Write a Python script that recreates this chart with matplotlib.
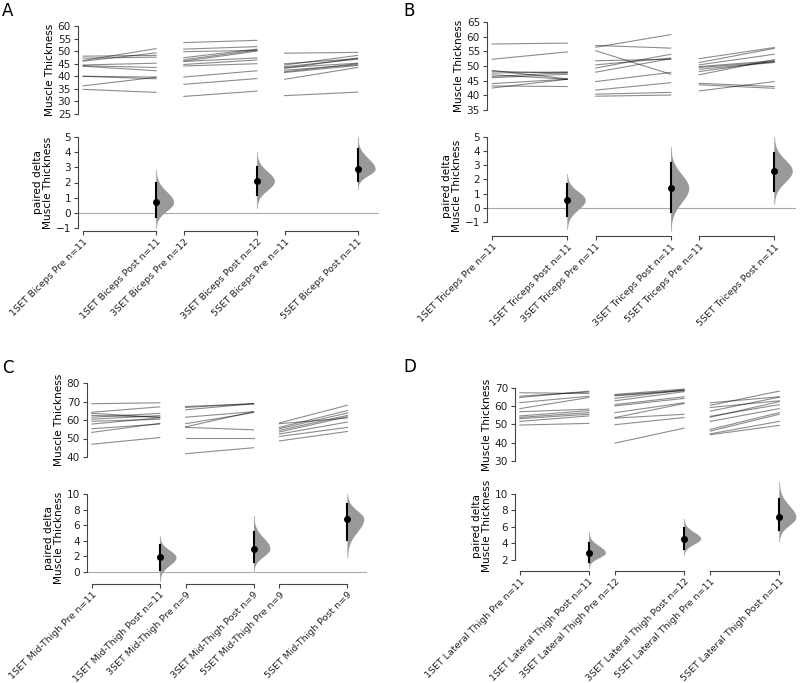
import matplotlib
matplotlib.use("Agg")
import matplotlib.pyplot as plt
import numpy as np

W, H = 800, 683

# ---- values ----
biceps_labels = ["1SET Biceps Pre n=11", "1SET Biceps Post n=11",
                 "3SET Biceps Pre n=12", "3SET Biceps Post n=12",
                 "5SET Biceps Pre n=11", "5SET Biceps Post n=11"]
biceps_pre = [[48.0, 47.2, 46.3, 46.0, 44.5, 44.2, 44.0, 40.0, 40.0, 36.2, 34.8],
              [53.4, 50.8, 49.8, 47.4, 46.6, 46.0, 45.9, 44.7, 44.1, 39.7, 36.8, 32.0],
              [49.2, 45.0, 44.5, 43.8, 43.5, 43.1, 42.4, 41.8, 41.5, 38.8, 32.3]]
biceps_post = [[48.3, 47.6, 51.0, 49.3, 45.2, 43.5, 42.2, 39.7, 39.0, 39.6, 33.6],
               [54.3, 51.8, 50.3, 50.8, 50.4, 50.0, 47.3, 46.5, 45.0, 42.2, 39.1, 34.1],
               [49.5, 47.0, 48.3, 46.8, 45.2, 47.3, 44.6, 45.0, 44.3, 43.5, 33.7]]
biceps_delta = [0.7, 2.1, 2.9]
biceps_ci = [(-0.3, 2.0), (1.2, 3.0), (2.1, 4.2)]
biceps_span = [(-1.0, 2.8), (0.3, 4.0), (1.6, 5.0)]

triceps_labels = ["1SET Triceps Pre n=11", "1SET Triceps Post n=11",
                  "3SET Triceps Pre n=11", "3SET Triceps Post n=11",
                  "5SET Triceps Pre n=11", "5SET Triceps Post n=11"]
triceps_pre = [[57.5, 52.3, 48.5, 48.2, 47.6, 47.0, 46.4, 46.0, 44.0, 43.2, 42.5],
               [57.0, 56.4, 55.2, 51.8, 50.4, 49.3, 47.9, 44.7, 41.8, 40.4, 39.7],
               [52.5, 51.2, 50.4, 49.8, 49.5, 48.9, 48.1, 47.0, 44.1, 43.6, 41.5]]
triceps_post = [[57.8, 54.8, 45.6, 47.6, 48.0, 45.5, 47.8, 47.2, 45.5, 43.0, 45.5],
                [56.1, 60.7, 47.2, 52.3, 52.7, 54.0, 52.5, 47.8, 44.3, 41.0, 40.1],
                [56.3, 56.0, 54.0, 51.8, 51.4, 51.2, 51.6, 52.2, 43.0, 42.4, 44.7]]
triceps_delta = [0.55, 1.4, 2.6]
triceps_ci = [(-0.6, 1.65), (-0.3, 3.15), (1.2, 3.85)]
triceps_span = [(-1.5, 2.35), (-1.65, 4.3), (0.25, 5.0)]

mid_labels = ["1SET Mid-Thigh Pre n=11", "1SET Mid-Thigh Post n=11",
              "3SET Mid-Thigh Pre n=9", "3SET Mid-Thigh Post n=9",
              "5SET Mid-Thigh Pre n=9", "5SET Mid-Thigh Post n=9"]
mid_pre = [[68.8, 64.2, 63.6, 62.5, 61.5, 60.4, 59.3, 57.8, 55.3, 53.3, 46.9],
           [67.3, 66.8, 65.5, 61.5, 58.0, 56.3, 56.0, 50.5, 41.8],
           [58.4, 58.0, 56.0, 55.3, 54.4, 53.5, 52.4, 51.1, 48.7]]
mid_post = [[69.3, 67.1, 61.5, 61.5, 63.6, 62.4, 60.4, 61.2, 57.8, 58.2, 50.5],
            [68.8, 68.8, 68.8, 64.5, 64.0, 64.5, 54.7, 50.5, 45.0],
            [68.0, 61.1, 65.1, 63.8, 62.5, 61.8, 58.9, 56.0, 53.8]]
mid_delta = [1.9, 3.0, 6.8]
mid_ci = [(0.25, 3.4), (1.25, 5.1), (4.1, 8.65)]
mid_span = [(-1.2, 4.6), (0.0, 7.2), (1.9, 10.0)]

lat_labels = ["1SET Lateral Thigh Pre n=11", "1SET Lateral Thigh Post n=11",
              "3SET Lateral Thigh Pre n=12", "3SET Lateral Thigh Post n=12",
              "5SET Lateral Thigh Pre n=11", "5SET Lateral Thigh Post n=11"]
lat_pre = [[67.4, 65.5, 64.8, 62.0, 58.7, 57.0, 54.7, 53.9, 53.2, 51.7, 49.7],
           [66.5, 66.0, 65.7, 64.3, 63.0, 60.9, 60.2, 56.5, 53.8, 53.5, 49.9, 39.8],
           [61.9, 60.5, 59.3, 57.3, 54.5, 54.0, 51.7, 47.3, 46.4, 44.9, 44.4]]
lat_post = [[67.0, 67.8, 68.3, 65.5, 64.8, 58.4, 57.6, 56.5, 55.6, 54.7, 50.6],
            [69.4, 68.8, 68.5, 69.0, 68.0, 65.2, 64.3, 61.9, 61.5, 55.6, 53.8, 48.0],
            [65.2, 68.3, 63.0, 65.0, 60.9, 62.5, 58.7, 56.5, 55.6, 51.7, 49.5]]
lat_delta = [2.9, 4.6, 7.2]
lat_ci = [(1.7, 4.1), (3.35, 5.85), (5.6, 9.4)]
lat_span = [(1.0, 5.4), (2.6, 6.95), (4.25, 11.4)]

GAP = 0.38
XPOS = [0, 1, 1 + GAP, 2 + GAP, 2 + 2 * GAP, 3 + 2 * GAP]
XLIM = (-0.07, 4.05)
SPINE = "#444444"
FS = 7.6


def rect(left, top, right, bottom):
    return [left / W, 1 - bottom / H, (right - left) / W, (bottom - top) / H]


def half_violin(ax, x, m, span, width=0.24):
    lo, hi = span
    y = np.linspace(lo, hi, 300)
    sd = np.where(y < m, (m - lo) / 3.0, (hi - m) / 3.0)
    dens = np.exp(-0.5 * ((y - m) / sd) ** 2)
    dens = dens / dens.max() * width
    ax.fill_betweenx(y, x, x + dens, color="#999999", lw=0, zorder=2)
    ax.plot([x, x], [lo, hi], color="#c8c8c8", lw=0.8, zorder=1)


def panel(fig, letter, letter_xy, left, ppu, top_y, bot_y, top_lim, top_ticks,
          bot_lim, bot_ticks, labels, pre, post, delta, ci, span):
    right = left + ppu * (XLIM[1] - XLIM[0])
    fig.text(letter_xy[0] / W, 1 - letter_xy[1] / H, letter, fontsize=12,
             va="top", ha="left")

    # slopegraph
    ax = fig.add_axes(rect(left, top_y[0], right, top_y[1]))
    for i in range(3):
        for a, b in zip(pre[i], post[i]):
            ax.plot([XPOS[2 * i], XPOS[2 * i + 1]], [a, b], color="black",
                    alpha=0.45, lw=0.8)
    ax.set_xlim(*XLIM)
    ax.set_ylim(*top_lim)
    ax.set_yticks(top_ticks)
    ax.set_xticks([])
    for s in ["top", "right", "bottom"]:
        ax.spines[s].set_visible(False)
    ax.spines["left"].set_color(SPINE)
    ax.spines["left"].set_linewidth(0.8)
    ax.tick_params(axis="y", labelsize=FS, length=3, width=0.8, color=SPINE,
                   pad=2, labelcolor="#222222")
    ax.set_ylabel("Muscle Thickness", fontsize=FS, labelpad=2)
    ax.patch.set_visible(False)

    # paired delta
    bx = fig.add_axes(rect(left, bot_y[0], right, bot_y[1]))
    bx.axhline(0, color="#aaaaaa", lw=0.8, zorder=0)
    for i in range(3):
        x = XPOS[2 * i + 1]
        half_violin(bx, x, delta[i], span[i])
        bx.plot([x, x], ci[i], color="black", lw=1.5, zorder=3)
        bx.plot([x], [delta[i]], "o", color="black", ms=4, zorder=4)
        bx.plot([XPOS[2 * i], XPOS[2 * i + 1]], [bot_lim[0]] * 2, color=SPINE,
                lw=0.8, clip_on=False)
    bx.set_xlim(*XLIM)
    bx.set_ylim(*bot_lim)
    bx.set_yticks(bot_ticks)
    bx.spines["left"].set_bounds(bot_ticks[0], bot_ticks[-1])
    for s in ["top", "right", "bottom"]:
        bx.spines[s].set_visible(False)
    bx.spines["left"].set_color(SPINE)
    bx.spines["left"].set_linewidth(0.8)
    bx.set_xticks(XPOS)
    bx.set_xticklabels(labels, rotation=45, ha="right", rotation_mode="anchor",
                       fontsize=6.8, color="#222222")
    bx.tick_params(axis="x", length=3, width=0.8, color=SPINE, pad=1.5)
    bx.tick_params(axis="y", labelsize=FS, length=3, width=0.8, color=SPINE,
                   pad=2, labelcolor="#222222")
    bx.set_ylabel("paired delta\nMuscle Thickness", fontsize=FS, labelpad=2,
                  linespacing=1.0)
    bx.patch.set_visible(False)


fig = plt.figure(figsize=(W / 100, H / 100), dpi=100)

panel(fig, "A", (2, 2), 78, 73, (26, 114), (134, 231), (25, 60),
      range(25, 61, 5), (-1.2, 5.2), list(range(-1, 6)), biceps_labels,
      biceps_pre, biceps_post, biceps_delta, biceps_ci, biceps_span)
panel(fig, "B", (403, 2), 487, 75, (22, 110), (135.6, 236), (35, 65),
      range(35, 66, 5), (-2.0, 5.1), list(range(-1, 6)), triceps_labels,
      triceps_pre, triceps_post, triceps_delta, triceps_ci, triceps_span)
panel(fig, "C", (2, 359), 87, 68, (383, 457), (492.4, 583.7), (40, 80),
      range(40, 81, 10), (-1.5, 10.2), list(range(0, 11, 2)), mid_labels,
      mid_pre, mid_post, mid_delta, mid_ci, mid_span)
panel(fig, "D", (403, 358), 515, 69, (388, 461), (480.8, 570.7), (30, 70),
      range(30, 71, 10), (0.7, 11.6), list(range(2, 11, 2)), lat_labels,
      lat_pre, lat_post, lat_delta, lat_ci, lat_span)

fig.savefig("out.png", dpi=100)
